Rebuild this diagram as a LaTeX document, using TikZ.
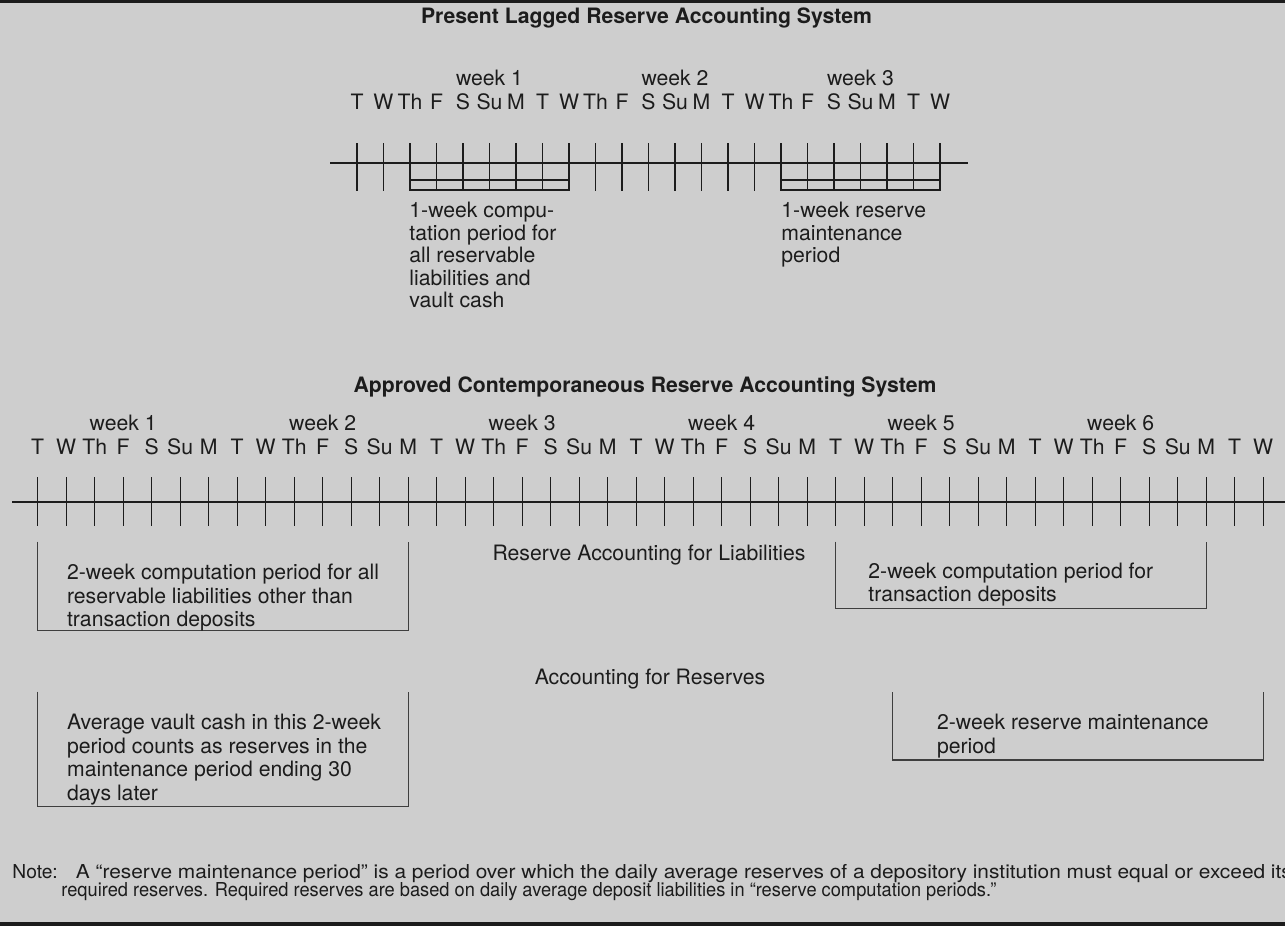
\documentclass[tikz,border=0pt]{standalone}
\usepackage{graphicx}
\usepackage{fontspec}
\setmainfont{TeX Gyre Heros}
\definecolor{paper}{RGB}{206,206,206}
\definecolor{ink}{RGB}{28,28,28}
\tikzset{
  axisline/.style={draw=ink, line width=1pt},
  tickline/.style={draw=ink, line width=0.7pt},
  bracket/.style={draw=ink!85, line width=0.6pt},
  daylabel/.style={anchor=base, inner sep=0pt, text=ink, font=\fontsize{10.6}{12}\selectfont},
  headline/.style={anchor=base, inner sep=0pt, text=ink, font=\fontsize{10.6}{12}\selectfont\bfseries},
  boxtext/.style={anchor=north west, inner sep=0pt, align=left, text=ink, font=\fontsize{10.6}{11.7}\selectfont},
  notetext/.style={anchor=base west, inner sep=0pt, text=ink, font=\fontsize{9.6}{11}\selectfont},
}
\begin{document}
\begin{tikzpicture}[x=0.5pt, y=-0.5pt]
	\fill[paper] (0,0) rectangle (1285,926);
	\useasboundingbox (0,0) rectangle (1285,926);
	\fill[ink] (0,0) rectangle (1285,3);
	\fill[ink] (0,922) rectangle (1285,926);
	% present lagged system
	\node[headline] (lagtitle) at (646.5,24) {Present Lagged Reserve Accounting System};
	\foreach \w/\i in {1/5,2/12,3/19}
		\node[daylabel] (lagweek\w) at (357+26.5*\i,85) {week \w};
	\draw[axisline] (330,163) -- (968,163);
	\foreach \d [count=\i from 0] in {T,W,Th,F,S,Su,M,T,W,Th,F,S,Su,M,T,W,Th,F,S,Su,M,T,W}{
		\node[daylabel] (lagday\i) at (357+26.5*\i,109.5) {\d};
		\draw[tickline] (357+26.5*\i,143) -- (357+26.5*\i,191);
	}
	\draw[tickline] (410,180) -- (569,180) (410,190) -- (569,190);
	\draw[tickline] (781,180) -- (940,180) (781,190) -- (940,190);
	\node[boxtext, font=\fontsize{10.6}{11.25}\selectfont] (lagcomp) at (409,202) {1-week compu-\\tation period for\\all reservable\\liabilities and\\vault cash};
	\node[boxtext, font=\fontsize{10.6}{11.25}\selectfont] (lagmaint) at (781,202) {1-week reserve\\maintenance\\period};
	% approved contemporaneous system
	\node[headline] (crtitle) at (645,392) {Approved Contemporaneous Reserve Accounting System};
	\foreach \w in {1,...,6}
		\node[daylabel] (crweek\w) at (37.7+28.5*7*\w-28.5*4,430) {week \w};
	\draw[axisline] (12,502) -- (1285,502);
	\foreach \d [count=\i from 0] in {T,W,Th,F,S,Su,M,T,W,Th,F,S,Su,M,T,W,Th,F,S,Su,M,T,W,Th,F,S,Su,M,T,W,Th,F,S,Su,M,T,W,Th,F,S,Su,M,T,W}{
		\node[daylabel] (crday\i) at (37.7+28.5*\i,454.5) {\d};
		\draw[tickline] (37.7+28.5*\i,477) -- (37.7+28.5*\i,526);
	}
	\node[daylabel] (liablabel) at (649,560.5) {Reserve Accounting for Liabilities};
	\draw[bracket] (37.7,541.7) |- (408.2,630.7) -- (408.2,541.7);
	\node[boxtext] (othercomp) at (66.7,564) {2-week computation period for all\\reservable liabilities other than\\transaction deposits};
	\draw[bracket] (835.7,541.7) |- (1206.2,608.3) -- (1206.2,541.7);
	\node[boxtext] (transcomp) at (868,562.5) {2-week computation period for\\transaction deposits};
	\node[daylabel] (reslabel) at (650,684.5) {Accounting for Reserves};
	\draw[bracket] (37.7,691.7) |- (408.2,806.7) -- (408.2,691.7);
	\node[boxtext] (vaultcash) at (66.7,714) {Average vault cash in this 2-week\\period counts as reserves in the\\maintenance period ending 30\\days later};
	\draw[bracket] (892.7,692.3) |- (1263.2,760) -- (1263.2,692.3);
	\node[boxtext] (twomaint) at (936.7,714) {2-week reserve maintenance\\period};
	% note
	\node[notetext] (notehead) at (12,878.8) {Note:};
	\node[notetext] (noteone) at (75.5,878.8) {\scalebox{1.087}[1]{A ``reserve maintenance period'' is a period over which the daily average reserves of a depository institution must equal or exceed its}};
	\node[notetext] (notetwo) at (61,896.5) {\scalebox{0.95}[1]{required reserves. Required reserves are based on daily average deposit liabilities in ``reserve computation periods.''}};
\end{tikzpicture}
\end{document}
